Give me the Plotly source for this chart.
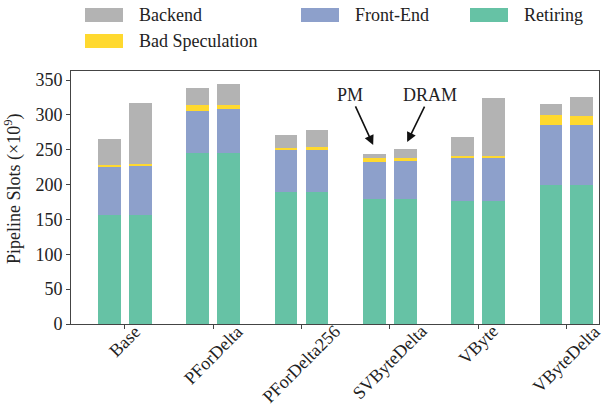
import plotly.graph_objects as go

# Benchmarks and per-memory pipeline slot breakdowns (x10^9)
categories = ["Base", "PForDelta", "PForDelta256", "SVByteDelta", "VByte", "VByteDelta"]

retiring_pm = [157, 246, 190, 180, 176, 199]
frontend_pm = [69, 60, 59, 53, 63, 87]
badspec_pm = [1.5, 8.5, 4, 4.5, 1.5, 14.5]
backend_pm = [38.5, 24.5, 17.5, 7, 27.5, 14.5]

retiring_dram = [157, 246, 190, 180, 176, 199]
frontend_dram = [69, 62, 60, 54, 62, 87]
badspec_dram = [3, 6, 4, 4.5, 3, 13]
backend_dram = [87.5, 31, 24, 13, 83, 26]

series = [
    ("Retiring", "#66c2a5", retiring_pm, retiring_dram),
    ("Front-End", "#8da0cb", frontend_pm, frontend_dram),
    ("Bad Speculation", "#ffd92f", badspec_pm, badspec_dram),
    ("Backend", "#b3b3b3", backend_pm, backend_dram),
]

FONT = "Liberation Serif"
FS = 18
TEXT_COLOR = "#222"
OFFSET = 0.175
BAR_W = 0.257

idx = list(range(len(categories)))
x_pm = [i - OFFSET for i in idx]
x_dram = [i + OFFSET for i in idx]

fig = go.Figure()
for name, color, pm, dram in series:
    fig.add_trace(go.Bar(
        x=x_pm + x_dram,
        y=pm + dram,
        width=BAR_W,
        name=name,
        marker=dict(color=color, line=dict(width=0)),
        showlegend=False,
    ))

# Plot-area geometry in pixels, for placing items around it
L, R, T, B = 71, 4, 71, 89
W, H = 603, 413
pw, ph = W - L - R, H - T - B


def px(x):
    return (x - L) / pw


def py(y):
    return (H - B - y) / ph


shapes = []
annotations = []

# Legend: swatches and labels laid out in three columns
legend_items = [
    ("Backend", "#b3b3b3", 85, 8),
    ("Bad Speculation", "#ffd92f", 85, 34),
    ("Front-End", "#8da0cb", 301, 8),
    ("Retiring", "#66c2a5", 470, 8),
]
for label, color, x0, y0 in legend_items:
    shapes.append(dict(type="rect", xref="paper", yref="paper",
                       x0=px(x0), x1=px(x0 + 38), y0=py(y0 + 14), y1=py(y0),
                       fillcolor=color, line=dict(width=0)))
    annotations.append(dict(xref="paper", yref="paper", x=px(x0 + 52), y=py(y0 + 7),
                            text=label, showarrow=False, xanchor="left", yanchor="middle",
                            font=dict(family=FONT, size=FS, color=TEXT_COLOR)))

# Category labels, rotated and centred under each tick
for i, cat in zip(idx, categories):
    annotations.append(dict(xref="x", yref="paper", x=i, y=py(320),
                            text=cat, textangle=-45, showarrow=False,
                            xanchor="center", yanchor="top", borderpad=0,
                            font=dict(family=FONT, size=FS, color=TEXT_COLOR)))

# Y axis title
annotations.append(dict(xref="paper", yref="paper", x=px(13), y=py(189),
                        text="Pipeline Slots (×10<sup>9</sup>)", textangle=-90,
                        showarrow=False, xanchor="center", yanchor="middle",
                        font=dict(family=FONT, size=FS, color=TEXT_COLOR)))

# Arrows marking the PM and DRAM bars
sv = categories.index("SVByteDelta")
annotations.append(dict(x=sv - 0.188, y=257, xref="x", yref="y", text="PM",
                        showarrow=True, arrowhead=2, arrowsize=1.2, arrowwidth=1.6,
                        arrowcolor="#111", ax=-23, ay=-50, standoff=0,
                        font=dict(family=FONT, size=FS, color=TEXT_COLOR)))
annotations.append(dict(x=sv + 0.197, y=261, xref="x", yref="y", text="DRAM",
                        showarrow=True, arrowhead=2, arrowsize=1.2, arrowwidth=1.6,
                        arrowcolor="#111", ax=23, ay=-47, standoff=0,
                        font=dict(family=FONT, size=FS, color=TEXT_COLOR)))

axis_common = dict(showline=True, linecolor="#444", linewidth=1, mirror=True,
                   ticks="outside", ticklen=4, tickcolor="#444", showgrid=False,
                   zeroline=False, tickfont=dict(family=FONT, size=FS, color=TEXT_COLOR))

fig.update_layout(
    barmode="stack",
    width=W, height=H,
    margin=dict(l=L, r=R, t=T, b=B, autoexpand=False),
    paper_bgcolor="white", plot_bgcolor="white",
    xaxis=dict(range=[-0.611, 5.37], tickmode="array", tickvals=idx,
               showticklabels=False, **axis_common),
    yaxis=dict(range=[0, 363], tickmode="array", tickvals=list(range(0, 351, 50)),
               **axis_common),
    shapes=shapes,
    annotations=annotations,
    showlegend=False,
)

fig.write_html("out.html")
